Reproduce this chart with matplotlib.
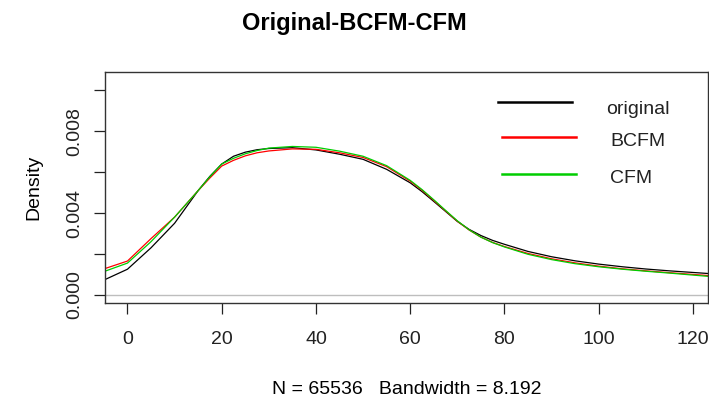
import numpy as np
import matplotlib
matplotlib.use("Agg")
import matplotlib.pyplot as plt

plt.rcParams['font.family'] = ['Liberation Sans', 'DejaVu Sans']

# density curves (x grid in data units)
x = [-4.8, 0, 5, 10, 15, 17.5, 20, 22.5, 25, 27.5, 30, 35, 40, 45, 50, 55,
     60, 62.5, 65, 67.5, 70, 72.5, 75, 77.5, 80, 85, 90, 95, 100, 105, 110,
     115, 123.2]
original = [0.00074, 0.00125, 0.00230, 0.00350, 0.00510, 0.00580, 0.00640,
            0.00678, 0.00698, 0.00710, 0.00716, 0.00720, 0.00709, 0.00688,
            0.00663, 0.00614, 0.00548, 0.00505, 0.00457, 0.00408, 0.00359,
            0.00320, 0.00290, 0.00266, 0.00247, 0.00212, 0.00186, 0.00166,
            0.00150, 0.00137, 0.00126, 0.00117, 0.00104]
bcfm = [0.00128, 0.00165, 0.00275, 0.00380, 0.00510, 0.00572, 0.00630,
        0.00658, 0.00680, 0.00695, 0.00704, 0.00714, 0.00712, 0.00695,
        0.00672, 0.00627, 0.00556, 0.00512, 0.00462, 0.00411, 0.00360,
        0.00317, 0.00282, 0.00256, 0.00236, 0.00202, 0.00176, 0.00156,
        0.00140, 0.00127, 0.00117, 0.00108, 0.00094]
cfm = [0.00115, 0.00155, 0.00260, 0.00380, 0.00510, 0.00578, 0.00640,
       0.00668, 0.00690, 0.00706, 0.00718, 0.00726, 0.00722, 0.00703,
       0.00678, 0.00632, 0.00560, 0.00515, 0.00465, 0.00413, 0.00362,
       0.00318, 0.00282, 0.00255, 0.00234, 0.00198, 0.00172, 0.00152,
       0.00137, 0.00125, 0.00115, 0.00106, 0.00090]

series_names = ['original', 'BCFM', 'CFM']
series_colors = ['black', '#FF0000', '#00CD00']
x_ticks = [0, 20, 40, 60, 80, 100, 120]
y_ticks = [0.000, 0.002, 0.004, 0.006, 0.008, 0.010]
y_ticklabels = ['0.000', '', '0.004', '', '0.008', '']

fig = plt.figure(figsize=(7.09, 3.99), dpi=100)
ax = fig.add_axes([0.1481, 0.2398, 0.8505, 0.5805])

ax.axhline(0, color='#BEBEBE', lw=1.0, zorder=1)
for ys, c in zip([original, bcfm, cfm], series_colors):
    ax.plot(x, ys, color=c, lw=0.9, zorder=2)

ax.set_xlim(-4.77, 123.2)
ax.set_ylim(-0.00042, 0.01092)
ax.set_xticks(x_ticks)
ax.set_yticks(y_ticks)
ax.set_yticklabels(y_ticklabels, rotation=90, va='center')
ax.tick_params(axis='both', direction='out', length=8, width=0.9,
               labelsize=14, colors='#222222')
ax.tick_params(axis='x', pad=12)
ax.tick_params(axis='y', pad=8)
for s in ax.spines.values():
    s.set_linewidth(1.0)
    s.set_color('#333333')

ax.set_ylabel('Density', fontsize=14, labelpad=17)
ax.set_xlabel('N = 65536   Bandwidth = 8.192', fontsize=14, labelpad=24)
fig.suptitle('Original-BCFM-CFM', fontsize=17, fontweight='bold', y=0.971)

# legend without box, drawn like R legend()
leg_y = [0.868, 0.719, 0.557]
line_x = [(0.652, 0.775), (0.658, 0.781), (0.658, 0.781)]
text_x = [0.831, 0.8375, 0.8375]
text_base = [0.819, 0.679, 0.520]
for name, c, yy, lx, tx, tb in zip(series_names, series_colors, leg_y,
                                   line_x, text_x, text_base):
    ax.plot(lx, [yy, yy], color=c, lw=1.8, transform=ax.transAxes, clip_on=False)
    ax.text(tx, tb, name, transform=ax.transAxes, fontsize=14,
            va='baseline', ha='left', color='#222222')

fig.savefig('out.png', dpi=100)
